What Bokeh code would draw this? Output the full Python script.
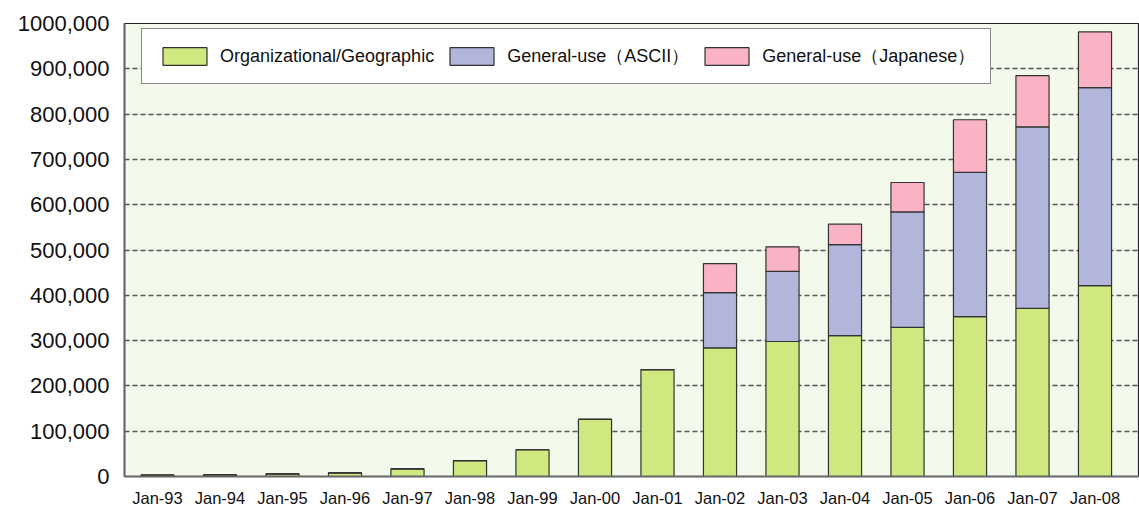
from bokeh.plotting import figure
from bokeh.models import ColumnDataSource, FixedTicker, Legend
from bokeh.embed import file_html
from bokeh.resources import INLINE

labels = ["Jan-93", "Jan-94", "Jan-95", "Jan-96", "Jan-97", "Jan-98", "Jan-99", "Jan-00",
          "Jan-01", "Jan-02", "Jan-03", "Jan-04", "Jan-05", "Jan-06", "Jan-07", "Jan-08"]
org_geo = [3000, 3500, 6000, 8000, 17000, 35000, 59000, 126000,
           236000, 284000, 298000, 311000, 329000, 353000, 371000, 421500]
gen_ascii = [0, 0, 0, 0, 0, 0, 0, 0,
             0, 122000, 155000, 201000, 255000, 318500, 401000, 437000]
gen_jp = [0, 0, 0, 0, 0, 0, 0, 0,
          0, 64000, 54000, 45000, 65000, 116000, 113000, 123000]
series_names = ["Organizational/Geographic", "General-use\uff08ASCII\uff09", "General-use\uff08Japanese\uff09"]
y_ticks = [0, 100000, 200000, 300000, 400000, 500000, 600000, 700000, 800000, 900000, 1000000]
y_tick_labels = ["0", "100,000", "200,000", "300,000", "400,000", "500,000", "600,000",
                 "700,000", "800,000", "900,000", "1000,000"]

colors = ["#CFE87F", "#B2B6DA", "#F9B3C4"]
FONT = "Liberation Sans"

x = list(range(len(labels)))
src = ColumnDataSource(dict(x=x, org=org_geo, ascii=gen_ascii, jp=gen_jp))

p = figure(width=1139, height=509, output_backend="svg", toolbar_location=None,
           x_range=(-0.528, 15.712), y_range=(0, 1000000),
           min_border_left=124, min_border_right=0, min_border_top=23, min_border_bottom=32)

rs = p.vbar_stack(["org", "ascii", "jp"], x="x", width=0.53, source=src,
                  fill_color=colors, line_color="#333333", line_width=1.2)

legend = Legend(items=[(series_names[i], [rs[i]]) for i in range(3)],
                orientation="horizontal", location=(17, 392),
                glyph_width=55, glyph_height=22, label_standoff=8, spacing=10,
                padding=15, margin=0,
                label_text_font=FONT, label_text_font_size="18px", label_text_color="#111111",
                border_line_color="#111111", border_line_width=1.2,
                background_fill_color="white", background_fill_alpha=1.0)
p.add_layout(legend, "center")

p.background_fill_color = "#F3F9EB"
p.border_fill_color = "white"
p.outline_line_color = "#222222"
p.outline_line_width = 1.2

p.xgrid.visible = False
p.ygrid.ticker = FixedTicker(ticks=y_ticks[1:-1])
p.ygrid.grid_line_color = "#555555"
p.ygrid.grid_line_dash = "5 3"
p.ygrid.grid_line_width = 1.3

p.yaxis.ticker = FixedTicker(ticks=y_ticks)
p.yaxis.major_label_overrides = {t: l for t, l in zip(y_ticks, y_tick_labels)}
p.yaxis.major_label_text_font = FONT
p.yaxis.major_label_text_font_size = "22px"
p.yaxis.major_label_text_color = "#111111"
p.yaxis.major_tick_out = 0
p.yaxis.major_tick_in = 0
p.yaxis.minor_tick_out = 0
p.yaxis.minor_tick_in = 0
p.yaxis.major_label_standoff = 15
p.yaxis.axis_line_color = "#666666"
p.yaxis.axis_line_width = 2

p.xaxis.ticker = FixedTicker(ticks=x)
p.xaxis.major_label_overrides = {i: l for i, l in zip(x, labels)}
p.xaxis.major_label_text_font = FONT
p.xaxis.major_label_text_font_size = "16.5px"
p.xaxis.major_label_text_color = "#111111"
p.xaxis.major_tick_out = 0
p.xaxis.major_tick_in = 0
p.xaxis.minor_tick_out = 0
p.xaxis.minor_tick_in = 0
p.xaxis.major_label_standoff = 12
p.xaxis.axis_line_color = "#666666"
p.xaxis.axis_line_width = 2

open("out.html", "w").write(file_html(p, INLINE))
